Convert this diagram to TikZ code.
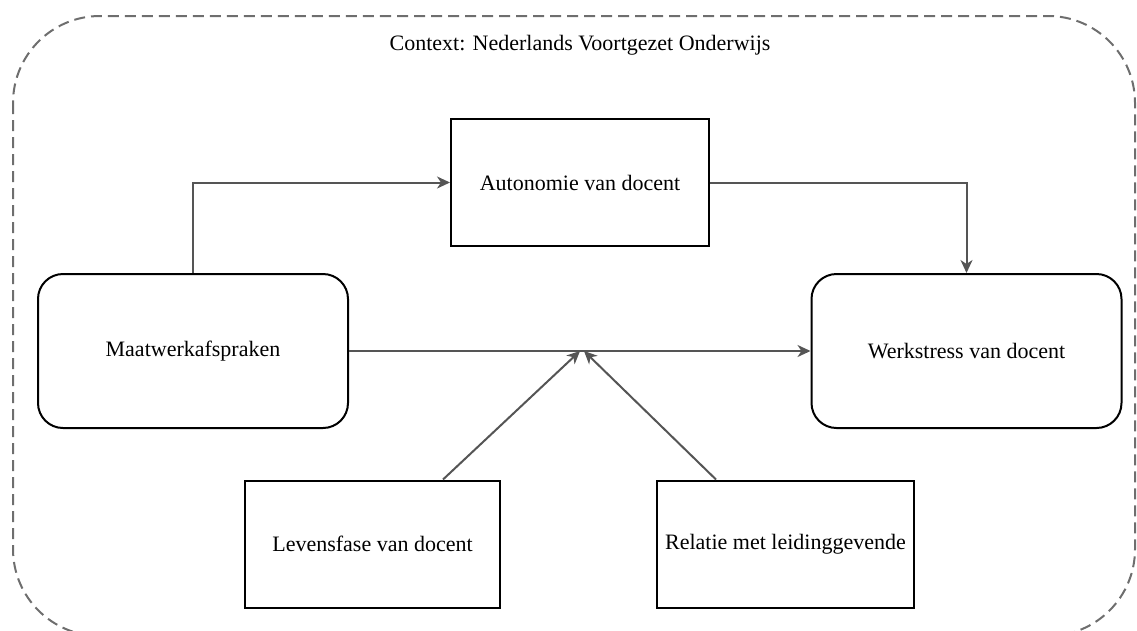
\documentclass[tikz,border=0pt]{standalone}
\usepackage{fontspec}
\setmainfont{Liberation Serif}
\usetikzlibrary{arrows.meta}
\definecolor{arrowgray}{RGB}{85,85,85}
\definecolor{framegray}{RGB}{110,110,110}
\begin{document}
\begin{tikzpicture}[x=1pt,y=-1pt,
  every node/.style={font=\fontsize{22}{26}\selectfont},
  sqbox/.style={draw=black,line width=2pt,minimum width=#1,minimum height=127pt,inner sep=0pt},
  rbox/.style={draw=black,line width=2pt,rounded corners=25pt,minimum width=310pt,minimum height=154pt,inner sep=0pt},
  conn/.style={draw=arrowgray,line width=2pt,-{Stealth[length=13pt,width=12pt,inset=4pt]}}]
\useasboundingbox (0,0) rectangle (1137,630);
\begin{scope}
\clip (0,0) rectangle (1137,630);
\draw[framegray,line width=2pt,dash pattern=on 11pt off 6pt,rounded corners=87pt] (13,16) rectangle (1135,636);
\end{scope}
\node (ctx) at (580,45) {Context: Nederlands Voortgezet Onderwijs};
\node[sqbox=258pt] (aut) at (580,182.5) {Autonomie van docent};
\node[rbox] (maat) at (193,351) {Maatwerkafspraken};
\node[rbox] (werk) at (966.5,351) {Werkstress van docent};
\node[sqbox=255pt] (lev) at (372.5,544) {Levensfase van docent};
\node[sqbox=257pt] (rel) at (785.5,544) {Relatie met leidinggevende};
\coordinate (m1) at (580,351);
\coordinate (m2) at (584,351);
\path[conn] (maat.north) |- (aut.west);
\path[conn] (aut.east) -| (werk.north);
\path[conn] (maat.east) -- (werk.west);
\path[conn] (lev.north -| 443,0) -- (m1);
\path[conn] (rel.north -| 716,0) -- (m2);
\end{tikzpicture}
\end{document}
